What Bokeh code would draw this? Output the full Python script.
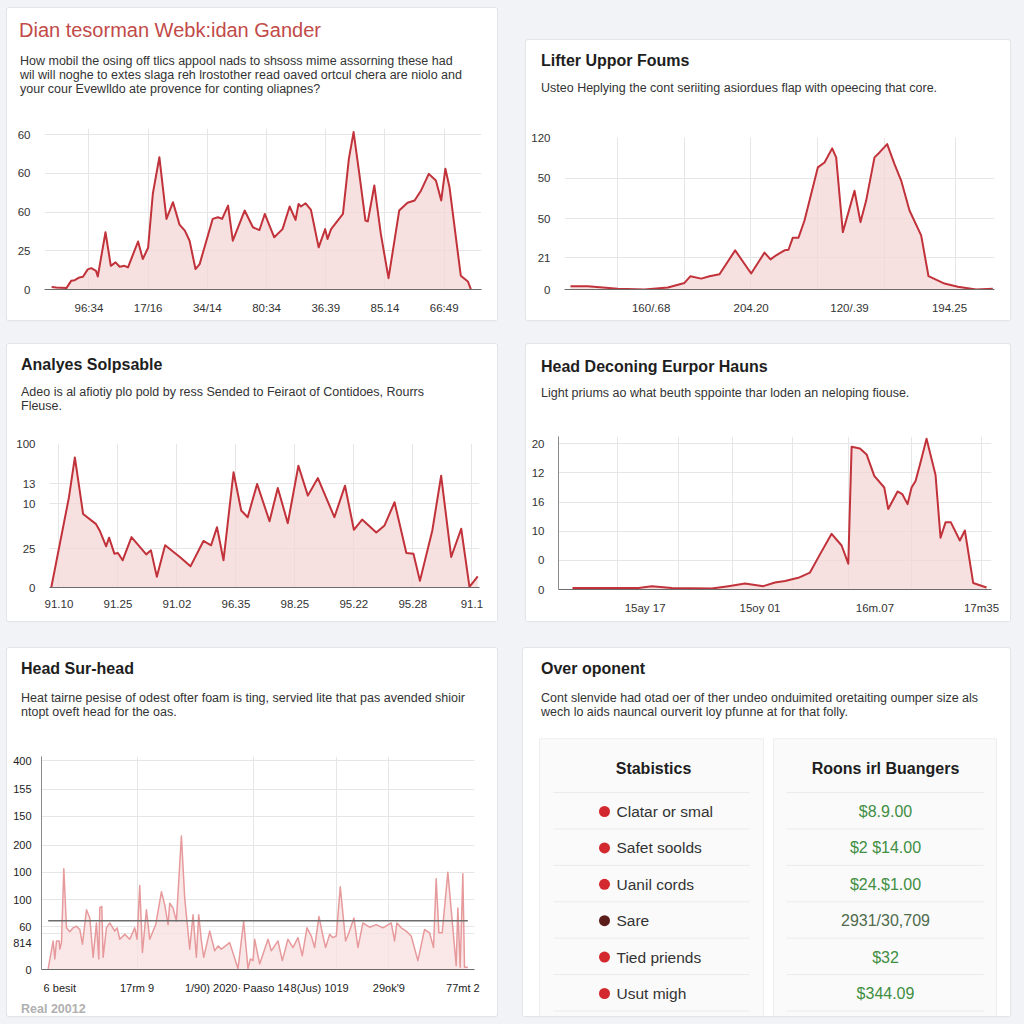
from bokeh.plotting import figure
from bokeh.layouts import column, row
from bokeh.models import (Div, Range1d, FixedTicker, CustomJSTickFormatter,
                          GlobalInlineStyleSheet)
from bokeh.core.properties import value
from bokeh.embed import file_html
from bokeh.resources import INLINE

FONT = "Liberation Sans"

# ---------------- data ----------------
# Card 1
c1_title = "Dian tesorman Webk:idan Gander"
c1_sub = ["How mobil the osing off tlics appool nads to shsoss mime assorning these had",
          "wil will noghe to extes slaga reh lrostother read oaved ortcul chera are niolo and",
          "your cour Evewlldo ate provence for conting oliapnes?"]
c1_x = [0.37, 0.45, 0.62, 0.70, 0.76, 0.84, 0.90, 0.98, 1.04, 1.12, 1.15, 1.28, 1.37, 1.45,
        1.52, 1.60, 1.66, 1.83, 1.91, 2.00, 2.08, 2.19, 2.31, 2.42, 2.53, 2.62, 2.70, 2.80,
        2.87, 3.09, 3.18, 3.25, 3.35, 3.43, 3.63, 3.77, 3.88, 3.97, 4.13, 4.27, 4.39, 4.49,
        4.54, 4.58, 4.66, 4.75, 4.88, 4.99, 5.03, 5.09, 5.29, 5.39, 5.47, 5.57, 5.67, 5.71,
        5.82, 5.93, 6.06, 6.24, 6.38, 6.50, 6.61, 6.74, 6.86, 6.95, 7.02, 7.09, 7.28, 7.40, 7.45]
c1_y = [1.7, 1.3, 0.9, 5.6, 6.0, 7.8, 8.2, 13.0, 13.8, 12.0, 8.4, 37.0, 15.3, 17.5,
        14.7, 15.3, 14.3, 31.0, 19.7, 27.0, 62.0, 85.5, 45.6, 56.4, 41.9, 38.0, 31.5, 13.2,
        16.4, 45.6, 46.7, 45.6, 54.2, 31.5, 51.0, 40.2, 38.4, 48.8, 33.7, 39.0, 53.6, 45.0,
        55.3, 53.6, 55.7, 51.4, 27.2, 39.0, 32.6, 39.0, 48.8, 84.4, 101.7, 73.7, 44.5, 44.0,
        67.2, 35.9, 7.3, 51.0, 56.0, 57.5, 64.0, 74.7, 70.4, 57.5, 78.0, 66.0, 8.9, 5.2, 0.2]
c1_xticks = [1, 2, 3, 4, 5, 6, 7]
c1_xlabels = ["96:34", "17/16", "34/14", "80:34", "36.39", "85.14", "66:49"]
c1_yticks = [0, 25, 50, 75, 100]
c1_ylabels = ["0", "25", "60", "60", "60"]

# Card 2
c2_title = "Lifter Uppor Foums"
c2_sub = ["Usteo Heplying the cont seriiting asiordues flap with opeecing that core."]
c2_x = [0.18, 0.70, 1.60, 2.40, 3.10, 3.60, 3.78, 4.10, 4.35, 4.65, 5.12, 5.60, 6.00, 6.18,
        6.35, 6.60, 6.72, 6.85, 7.02, 7.20, 7.60, 7.80, 8.03, 8.15, 8.35, 8.70, 8.88, 9.05,
        9.30, 9.45, 9.68, 9.90, 10.10, 10.35, 10.70, 10.92, 11.40, 11.80, 12.35, 12.85]
c2_y = [2.6, 2.6, 0.5, 0.0, 1.6, 5.2, 10.5, 8.6, 10.5, 12.0, 30.9, 12.6, 29.1, 23.8,
        27.0, 30.9, 31.4, 40.9, 40.9, 54.5, 96.4, 100.3, 111.4, 104.3, 45.3, 78.0, 53.2, 70.2,
        104.3, 108.2, 114.8, 99.0, 86.0, 62.4, 42.7, 10.5, 4.7, 2.1, 0.0, 0.5]
c2_xticks = [2.6, 5.6, 8.55, 11.55]
c2_xlabels = ["160/.68", "204.20", "120/.39", "194.25"]
c2_xgrid = [1.6, 3.6, 5.58, 7.6, 9.6, 11.72]
c2_yticks = [0, 25, 56, 88, 120]
c2_ylabels = ["0", "21", "50", "50", "120"]

# Card 3
c3_title = "Analyes Solpsable"
c3_sub = ["Adeo is al afiotiy plo pold by ress Sended to Feiraot of Contidoes, Rourrs",
          "Fleuse."]
c3_x = [-0.13, 0.17, 0.27, 0.41, 0.63, 0.69, 0.80, 0.85, 0.94, 1.00, 1.08, 1.23, 1.48, 1.56,
        1.66, 1.80, 2.05, 2.23, 2.45, 2.58, 2.68, 2.79, 2.96, 3.09, 3.20, 3.36, 3.57, 3.71,
        3.88, 4.06, 4.22, 4.39, 4.67, 4.85, 5.00, 5.14, 5.38, 5.52, 5.69, 5.89, 6.01, 6.12,
        6.33, 6.48, 6.65, 6.82, 6.96, 7.10]
c3_y = [0.0, 62.7, 90.3, 51.0, 44.0, 39.6, 28.6, 34.6, 23.5, 24.0, 18.9, 35.0, 23.0, 25.8,
        7.4, 29.3, 21.2, 14.7, 32.3, 29.3, 41.9, 18.9, 80.0, 53.5, 48.8, 71.9, 46.0, 69.1,
        44.7, 84.6, 63.8, 76.0, 48.8, 70.7, 40.1, 47.2, 38.2, 43.1, 59.2, 24.0, 23.5, 4.6,
        39.6, 77.6, 21.2, 40.8, 0.5, 7.8]
c3_xticks = [0, 1, 2, 3, 4, 5, 6, 7]
c3_xlabels = ["91.10", "91.25", "91.02", "96.35", "98.25", "95.22", "95.28", "91.1"]
c3_yticks = [0, 27, 58, 72, 100]
c3_ylabels = ["0", "25", "10", "13", "100"]

# Card 4
c4_title = "Head Deconing Eurpor Hauns"
c4_sub = ["Light priums ao what beuth sppointe thar loden an neloping fiouse."]
c4_x = [0.42, 2.40, 2.80, 3.40, 4.60, 5.10, 5.60, 6.15, 6.50, 6.80, 7.20, 7.55, 7.85, 8.20,
        8.50, 8.70, 8.80, 9.05, 9.25, 9.48, 9.78, 9.90, 10.18, 10.32, 10.48, 10.60, 10.72,
        10.88, 11.05, 11.32, 11.47, 11.62, 11.78, 12.05, 12.20, 12.45, 12.85]
c4_y = [1.1, 1.1, 2.3, 1.1, 0.7, 2.3, 4.1, 2.3, 4.8, 5.9, 8.0, 11.6, 24.1, 38.2,
        30.2, 17.7, 98.0, 96.8, 92.7, 78.0, 70.0, 55.2, 67.3, 65.5, 58.6, 70.0, 74.5,
        88.2, 103.4, 78.6, 35.5, 46.1, 46.1, 33.6, 40.5, 4.5, 1.4]
c4_xticks = [2.6, 6.05, 9.5, 12.7]
c4_xlabels = ["15ay 17", "15oy 01", "16m.07", "17m35"]
c4_xgrid = [1.78, 3.6, 5.22, 7.03, 8.7, 10.6, 12.7]
c4_yticks = [0, 20, 40, 60, 80, 100]
c4_ylabels = ["0", "0", "10", "16", "12", "20"]

# Card 5
c5_title = "Head Sur-head"
c5_sub = ["Heat tairne pesise of odest ofter foam is ting, servied lite that pas avended shioir",
          "ntopt oveft head for the oas."]
c5_x = [0.20, 0.35, 0.40, 0.45, 0.53, 0.55, 0.60, 0.67, 0.75, 0.85, 0.95, 1.05, 1.15, 1.23,
        1.35, 1.45, 1.55, 1.65, 1.72, 1.75, 1.81, 1.85, 1.95, 2.05, 2.20, 2.27, 2.35, 2.50,
        2.65, 2.80, 2.87, 2.95, 3.03, 3.15, 3.25, 3.43, 3.60, 3.70, 3.80, 3.85, 3.95, 4.05,
        4.20, 4.30, 4.45, 4.55, 4.65, 4.72, 4.80, 4.87, 5.05, 5.20, 5.30, 5.40, 5.65, 5.90,
        6.07, 6.20, 6.27, 6.35, 6.40, 6.55, 6.80, 6.90, 7.10, 7.23, 7.40, 7.55, 7.70, 7.83,
        7.97, 8.10, 8.20, 8.33, 8.45, 8.53, 8.65, 8.75, 8.85, 8.97, 9.13, 9.23, 9.38, 9.50,
        9.65, 9.85, 10.05, 10.25, 10.50, 10.60, 10.67, 10.80, 10.95, 11.10, 11.30, 11.50,
        11.65, 11.77, 11.85, 11.93, 12.03, 12.20, 12.45, 12.50, 12.57, 12.65, 12.70, 12.80]
c5_y = [1.2, 51.6, 19, 51.6, 51.6, 36.8, 48.6, 182, 75.3, 68.2, 75.3, 78.3, 72.3, 45.7,
        108, 93, 22, 84.2, 19, 112, 114, 22, 75.3, 84.2, 69.4, 75.3, 54.6, 63.5,
        54.6, 75.3, 54.6, 152, 30.8, 108, 54.6, 81.2, 140.5, 116.8, 81.2, 119.8, 110.9, 87.2,
        241.4, 128.7, 36.8, 99, 22, 99, 51.6, 22, 69.4, 33.8, 42.7, 36.8, 48.6, 1.2,
        87.2, 1.2, 19, 16, 54.6, 10, 54.6, 33.8, 51.6, 16, 54.6, 39.7, 57.5, 24.9,
        75.3, 60.5, 39.7, 96, 60.5, 39.7, 63.5, 57.5, 60.5, 149.4, 51.6, 66.4, 93, 39.7,
        84.2, 76.5, 81.2, 75.3, 84.2, 51.6, 84.2, 75.3, 69.4, 60.5, 16, 72.3,
        66.4, 39.7, 164, 66.4, 66.4, 176, 7, 111, 4, 173, 4, 4]
c5_threshold = 88
c5_xticks = [0.55, 2.87, 5.15, 6.75, 8.35, 10.43, 12.65]
c5_xlabels = ["6 besit", "17rm 9", "1/90) 2020\u00b7", "Paaso 14", "8(Jus) 1019", "29ok'9", "77mt 2"]
c5_xgrid = [2.88, 6.35, 8.85, 10.43]
c5_yticks = [0, 47, 77, 126, 176, 225, 277, 326, 377]
c5_ylabels = ["0", "814", "60", "100", "100", "200", "150", "155", "400"]
c5_ygrid = [65, 77, 126, 176, 225, 277, 326, 377]
c5_note = "Real 20012"

# Card 6
c6_title = "Over oponent"
c6_sub = ["Cont slenvide had otad oer of ther undeo onduimited oretaiting oumper size als",
          "wech lo aids nauncal ourverit loy pfunne at for that folly."]
c6_head_left = "Stabistics"
c6_head_right = "Roons irl Buangers"
c6_labels = ["Clatar or smal", "Safet soolds", "Uanil cords", "Sare", "Tied priends", "Usut migh"]
c6_values = ["$8.9.00", "$2 $14.00", "$24.$1.00", "2931/30,709", "$32", "$344.09"]
c6_dot_colors = ["#d3282e", "#d3282e", "#d3282e", "#5a1d1a", "#d3282e", "#d3282e"]
c6_value_colors = ["#3f8e42", "#3f8e42", "#3f8e42", "#4f6b4c", "#3f8e42", "#3f8e42"]

# ---------------- styling helpers ----------------
LINE = "#c1323a"
FILL = "#f3d6d6"
GRID = "#e6e6e6"
CARD_STYLE = {"background-color": "#ffffff",
              "box-shadow": "0 0 0 1px #e4e5ea, 0 1px 3px rgba(0,0,0,0.04)",
              "border-radius": "2px"}


def title_div(text, width, margin, size="16px", weight="bold", color="#1e1e1e", lh=20):
    return Div(text=text, width=width, height=lh, margin=margin,
               styles={"font-family": FONT, "font-size": size, "font-weight": weight,
                       "color": color, "line-height": f"{lh}px", "white-space": "nowrap"})


def sub_div(lines, width, margin):
    return Div(text="<br>".join(lines), width=width, height=14 * len(lines), margin=margin,
               styles={"font-family": FONT, "font-size": "12.5px", "color": "#333333",
                       "line-height": "14px", "white-space": "nowrap"})


def labeler(labels):
    return CustomJSTickFormatter(args=dict(labels=labels),
                                 code="const s = labels[index]; return s === undefined ? '' : s;")


def chart(x, y, width, height, xr, yr, borders, xticks, xlabels, yticks, ylabels,
          xgrid=None, ygrid=None, line_color=LINE, fill_color=FILL, line_width=2.0,
          yaxis_line=None, label_size="11.5px", ystandoff=8, label_color="#333333"):
    left, right, top, bottom = borders
    p = figure(width=width, height=height, x_range=Range1d(*xr), y_range=Range1d(*yr),
               output_backend="svg", toolbar_location=None,
               min_border_left=left, min_border_right=right,
               min_border_top=top, min_border_bottom=bottom)
    p.background_fill_color = "#ffffff"
    p.border_fill_color = "#ffffff"
    p.outline_line_color = None
    p.varea(x=x, y1=0, y2=y, fill_color=fill_color, fill_alpha=0.75)
    p.line(x=x, y=y, line_color=line_color, line_width=line_width, line_join="round")

    p.xaxis.ticker = FixedTicker(ticks=xticks)
    p.xaxis.formatter = labeler(xlabels)
    p.yaxis.ticker = FixedTicker(ticks=yticks)
    p.yaxis.formatter = labeler(ylabels)
    p.xgrid.ticker = FixedTicker(ticks=xgrid if xgrid is not None else xticks)
    p.ygrid.ticker = FixedTicker(ticks=ygrid if ygrid is not None else yticks)
    for g in (p.xgrid, p.ygrid):
        g.grid_line_color = GRID
        g.grid_line_width = 1
    for ax in (p.xaxis, p.yaxis):
        ax.major_tick_line_color = None
        ax.minor_tick_line_color = None
        ax.major_label_text_font = FONT
        ax.major_label_text_font_size = label_size
        ax.major_label_text_color = label_color
    p.xaxis.axis_line_color = "#6b6b6b"
    p.xaxis.axis_line_width = 1.2
    p.xaxis.major_label_standoff = 6
    p.yaxis.axis_line_color = yaxis_line
    p.yaxis.major_label_standoff = ystandoff
    return p


# ---------------- card 1 ----------------
p1 = chart(c1_x, c1_y, 490, 224, (0.25, 7.63), (0, 104), (37, 16, 32, 31),
           c1_xticks, c1_xlabels, c1_yticks, c1_ylabels)
card1 = column(
    title_div(c1_title, 470, (10, 0, 0, 12), size="20px", weight="normal",
              color="#c24a48", lh=24),
    sub_div(c1_sub, 470, (12, 0, 0, 13)),
    p1, styles=CARD_STYLE)

# ---------------- card 2 ----------------
p2 = chart(c2_x, c2_y, 484, 225, (0, 12.9), (0, 120), (38, 16, 42, 31),
           c2_xticks, c2_xlabels, c2_yticks, c2_ylabels, xgrid=c2_xgrid)
card2 = column(
    title_div(c2_title, 460, (11, 0, 0, 15)),
    sub_div(c2_sub, 460, (10, 0, 0, 15)),
    p2, styles=CARD_STYLE, margin=(32, 0, 0, 29))

# ---------------- card 3 ----------------
p3 = chart(c3_x, c3_y, 490, 208, (-0.16, 7.13), (0, 100), (42, 18, 30, 34),
           c3_xticks, c3_xlabels, c3_yticks, c3_ylabels)
card3 = column(
    title_div(c3_title, 470, (11, 0, 0, 14)),
    sub_div(c3_sub, 470, (10, 0, 0, 14)),
    p3, styles=CARD_STYLE)

# ---------------- card 4 ----------------
p4 = chart(c4_x, c4_y, 484, 221, (0, 13), (0, 105), (32, 19, 36, 32),
           c4_xticks, c4_xlabels, c4_yticks, c4_ylabels, xgrid=c4_xgrid,
           yaxis_line="#8a8a8a")
card4 = column(
    title_div(c4_title, 460, (13, 0, 0, 15)),
    sub_div(c4_sub, 460, (9, 0, 0, 15)),
    p4, styles=CARD_STYLE, margin=(0, 0, 0, 29))

# ---------------- card 5 ----------------
p5 = chart(c5_x, c5_y, 490, 277, (0, 13), (0, 385), (34, 23, 37, 24),
           c5_xticks, c5_xlabels, c5_yticks, c5_ylabels, xgrid=c5_xgrid, ygrid=c5_ygrid,
           line_color="#e79a9c", fill_color="#f8e0e0", line_width=1.5,
           yaxis_line="#8a8a8a", label_size="11px", ystandoff=4, label_color="#222222")
p5.segment(x0=[c5_x[0]], x1=[c5_x[-1]], y0=[c5_threshold], y1=[c5_threshold],
           line_color="#6d6d6d", line_width=1.5)
note5 = Div(text=c5_note, width=200, height=14, margin=(6, 0, 0, 14),
            styles={"font-family": FONT, "font-size": "12.5px", "color": "#b0b0b0",
                    "line-height": "14px", "font-weight": "bold"})
card5 = column(
    title_div(c5_title, 470, (11, 0, 0, 14)),
    sub_div(c5_sub, 470, (12, 0, 0, 14)),
    p5, note5, styles=CARD_STYLE)

# ---------------- card 6 (table) ----------------
rows_y = list(range(len(c6_labels)))
p6 = figure(width=487, height=297, x_range=Range1d(0, 487), y_range=Range1d(5.632, -2.527),
            output_backend="svg", toolbar_location=None,
            min_border_left=0, min_border_right=0, min_border_top=0, min_border_bottom=0)
p6.axis.visible = False
p6.grid.visible = False
p6.outline_line_color = None
p6.background_fill_color = "#ffffff"
p6.border_fill_color = "#ffffff"
p6.quad(left=[16, 250], right=[240, 473], top=[-2.0, -2.0], bottom=[5.8, 5.8],
        fill_color="#fafafa", line_color="#eeeeef", line_width=1)
sep_y = [r + 0.48 for r in [-1] + rows_y]
p6.segment(x0=[30] * len(sep_y), x1=[226] * len(sep_y), y0=sep_y, y1=sep_y,
           line_color="#ebebeb", line_width=1)
p6.segment(x0=[263] * len(sep_y), x1=[460] * len(sep_y), y0=sep_y, y1=sep_y,
           line_color="#ebebeb", line_width=1)
p6.text(x=[130, 362], y=[-1.18, -1.18], text=[c6_head_left, c6_head_right],
        text_font=value(FONT), text_font_size="16px", text_font_style="bold",
        text_color="#1e1e1e", text_align="center", text_baseline="middle")
p6.scatter(x=[81] * len(rows_y), y=rows_y, size=11, fill_color=c6_dot_colors,
           line_color=None)
p6.text(x=[93] * len(rows_y), y=rows_y, text=c6_labels, text_font=value(FONT),
        text_font_size="15.5px", text_color="#333333", text_align="left",
        text_baseline="middle")
p6.text(x=[362] * len(rows_y), y=rows_y, text=c6_values, text_font=value(FONT),
        text_font_size="16px", text_color=c6_value_colors, text_align="center",
        text_baseline="middle")
card6 = column(
    title_div(c6_title, 460, (11, 0, 0, 18)),
    sub_div(c6_sub, 460, (12, 0, 0, 18)),
    p6, styles=CARD_STYLE, margin=(0, 0, 0, 26))

root = column(
    row(card1, card2),
    row(card3, card4, margin=(24, 0, 0, 0)),
    row(card5, card6, margin=(27, 0, 0, 0)),
    margin=(8, 0, 0, 7),
    stylesheets=[GlobalInlineStyleSheet(css="body { background-color: #f2f3f7; margin: 0; }")])

open("out.html", "w").write(file_html(root, INLINE))
